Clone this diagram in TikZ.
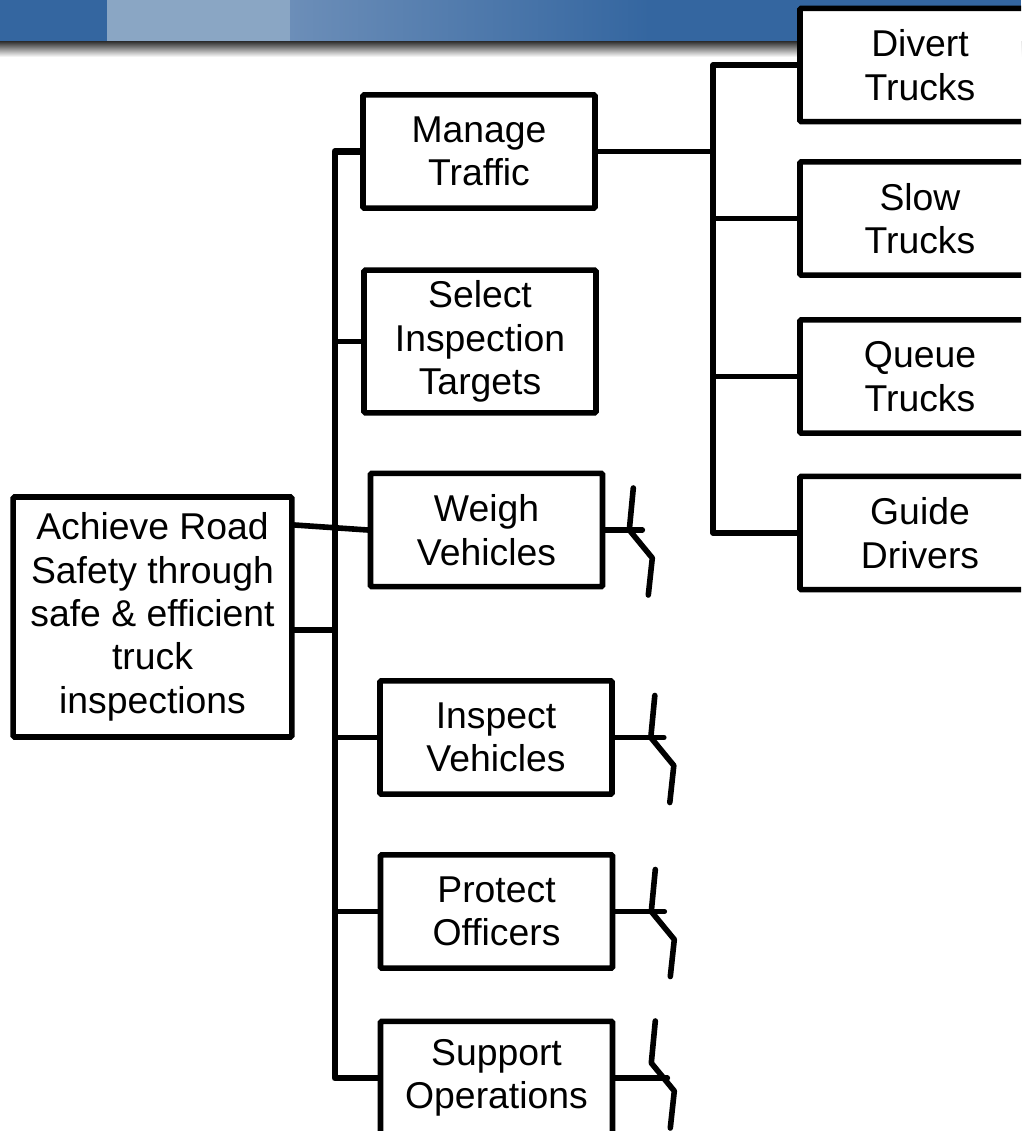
\documentclass[tikz,border=0pt]{standalone}
\usepackage{fontspec}
\setmainfont{Liberation Sans}
\definecolor{bannerblue}{RGB}{52,102,160}
\definecolor{bannerlight}{RGB}{138,166,196}
\definecolor{bannermid}{RGB}{108,142,184}
\begin{document}
\begin{tikzpicture}[
        x=0.75pt, y=-0.75pt,
        task/.style={
            draw,
            fill=white,
            line width=4.2pt,
            rounded corners=1pt,
            minimum width=174pt,
            minimum height=85pt,
            inner sep=0pt,
            align=center,
            font=\fontsize{28}{32.5}\selectfont
        },
        subtask/.style={
            task,
            minimum width=180pt
        },
        link/.style={
            line width=4.2pt,
            line cap=round,
            line join=round
        }
    ]
    \useasboundingbox (0,0) rectangle (1021,1131);
    \clip (0,0) rectangle (1021,1131);

    % banner across the top
    \fill[bannerblue] (0,0) rectangle (1021,42);
    \fill[bannerlight] (107,0) rectangle (290,42);
    \shade[left color=bannermid, right color=bannerblue] (290,0) rectangle (650,42);
    \shade[top color=black!78, bottom color=white] (0,42) rectangle (1021,57);

    % goal
    \node[task, minimum width=209pt, minimum height=180pt] (goal) at (152.5,617)
        {Achieve Road\\Safety through\\safe \& efficient\\truck\\inspections};

    % first level
    \node[task] (manage) at (479,151.5) {Manage\\Traffic};
    \node[task, minimum height=107pt] (select) at (480,341.5) {Select\\Inspection\\Targets};
    \node[task] (weigh) at (486.5,530) {Weigh\\Vehicles};
    \node[task] (inspect) at (496,737.5) {Inspect\\Vehicles};
    \node[task] (protect) at (496.5,911.5) {Protect\\Officers};
    \node[task] (support) at (496.5,1078) {Support\\Operations};

    % second level under Manage Traffic
    \node[subtask] (divert) at (920,65) {Divert\\Trucks};
    \node[subtask] (slow) at (920,218.5) {Slow\\Trucks};
    \node[subtask] (queue) at (920,376.5) {Queue\\Trucks};
    \node[subtask] (guide) at (920,533) {Guide\\Drivers};

    \coordinate (trunk) at (335,0);
    \coordinate (rtrunk) at (713,0);
    \coordinate (goallow) at ([yshift=-9.75pt]goal.east);

    % tree lines
    \draw[link, line width=5pt] (manage.west) -| (trunk |- support.west) -- (support.west);
    \foreach \n in {select, inspect, protect}
        \draw[link] (trunk |- \n.west) -- (\n.west);
    \draw[link] ([yshift=69pt]goal.east) -- (weigh.west);
    \draw[link] (goallow) -- (goallow -| trunk);

    \draw[link] (divert.west) -| (rtrunk |- guide.west) -- (guide.west);
    \draw[link] (manage.east) -- (manage.east -| rtrunk);
    \foreach \n in {slow, queue}
        \draw[link] (rtrunk |- \n.west) -- (\n.west);

    % broken ends
    \foreach \n/\len/\dx/\dy in {weigh/37/0/0, inspect/49/0/0, protect/49/0/0, support/52/-3/-15} {
        \draw[link] (\n.east) -- ++(\len,0) coordinate (\n-end);
        \draw[link] ([shift={(-9+\dx,-42+\dy)}]\n-end) -- ++(-4,42) -- ++(23,28) -- ++(-4,37);
    }
\end{tikzpicture}
\end{document}
